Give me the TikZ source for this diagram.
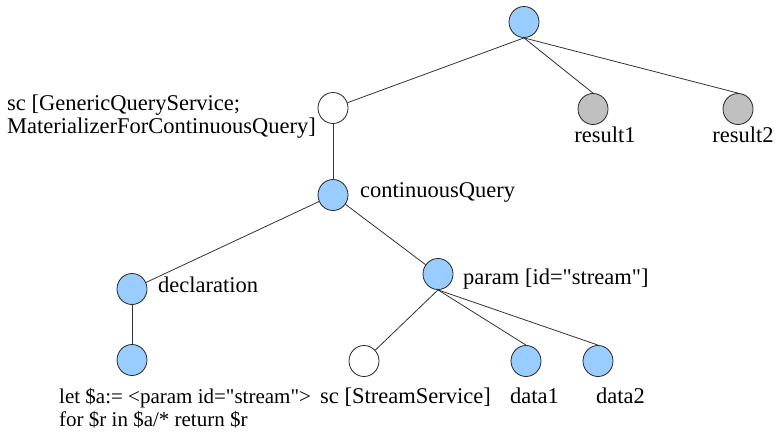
\documentclass[tikz,border=0pt]{standalone}
\usepackage{fontspec}
\setmainfont{Liberation Serif}[Ligatures=TeXOff]
\usetikzlibrary{shapes.geometric}
\definecolor{nodeblue}{HTML}{99CCFF}
\definecolor{nodegray}{HTML}{C0C0C0}
\definecolor{inkline}{HTML}{333333}
\begin{document}
\begin{tikzpicture}[x=1pt,y=-1pt,
  tnode/.style={ellipse, draw=black!85, line width=0.8pt, minimum width=30pt, minimum height=31pt, inner sep=0pt},
  bluenode/.style={tnode, fill=nodeblue},
  whitenode/.style={tnode, fill=white},
  graynode/.style={tnode, fill=nodegray},
  lbl/.style={font=\fontsize{22.5}{23}\selectfont, inner sep=0pt, anchor=base west},
  codelbl/.style={font=\fontsize{21}{22}\selectfont, inner sep=0pt, anchor=base west},
  link/.style={draw=inkline, line width=0.8pt}
]
\useasboundingbox (0,0) rectangle (781,434);

% tree nodes
\node[bluenode]  (root)  at (524,22)  {};
\node[whitenode] (sc1)   at (333,108) {};
\node[graynode]  (res1)  at (593,109) {};
\node[graynode]  (res2)  at (738,109) {};
\node[bluenode]  (cq)    at (333,195) {};
\node[bluenode]  (decl)  at (132,289) {};
\node[bluenode]  (param) at (438,274) {};
\node[bluenode]  (letq)  at (132,360) {};
\node[whitenode] (sc2)   at (364,361) {};
\node[bluenode]  (d1)    at (526,361) {};
\node[bluenode]  (d2)    at (598,361) {};

% connectors
\draw[link] (root.south) -- (sc1);
\draw[link] (root.south) -- (res1.north);
\draw[link] (root.south) -- (res2.north);
\draw[link] (sc1) -- (cq);
\draw[link] (cq) -- (decl);
\draw[link] (cq) -- (param);
\draw[link] (decl) -- (letq);
\draw[link] (param.south) -- (sc2);
\draw[link] (param.south) -- (d1.north);
\draw[link] (param.south) -- (d2.north);

% labels
\node[lbl] (sc1a) at (7,110) {sc [GenericQueryService;};
\node[lbl] (sc1b) at (7,133) {MaterializerForContinuousQuery]};
\node[lbl, anchor=base] (res1l) at (605,142) {result1};
\node[lbl, anchor=base] (res2l) at (743,142) {result2};
\node[lbl] (cql) at (360,197) {continuousQuery};
\node[lbl] (decll) at (158,292) {declaration};
\node[lbl] (paraml) at (463,284) {param [id="stream"]};
\node[codelbl] (leta) at (59,403) {let \$a:= <param id="stream">};
\node[codelbl] (letb) at (59,426) {for \$r in \$a/* return \$r};
\node[lbl] (sc2l) at (320,403) {sc [StreamService]};
\node[lbl] (d1l) at (510,403) {data1};
\node[lbl] (d2l) at (596,403) {data2};
\end{tikzpicture}
\end{document}
